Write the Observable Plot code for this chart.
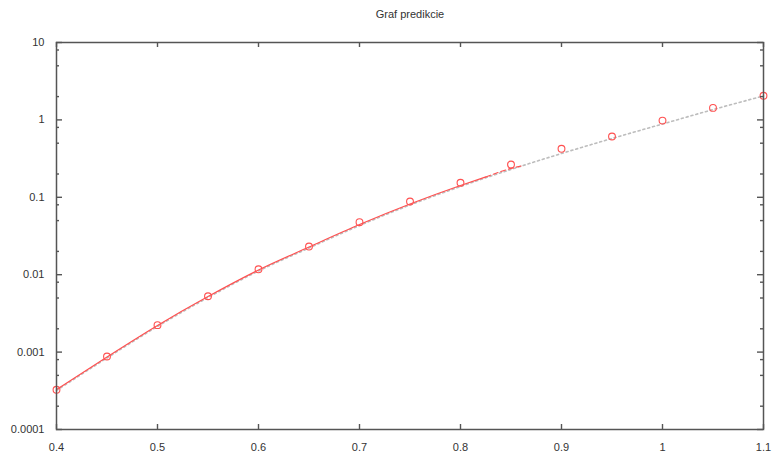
<!DOCTYPE html>
<html>
<head>
<meta charset="utf-8">
<script src="https://cdn.jsdelivr.net/npm/d3@7"></script>
<script src="https://cdn.jsdelivr.net/npm/@observablehq/plot@0.6"></script>
<style>
  html, body { margin: 0; padding: 0; background: #fff; }
</style>
</head>
<body>
<div id="chart"></div>
<script>
// Title
const title = "Graf predikcie";

// Measured points (red markers)
const pointX = [0.4, 0.45, 0.5, 0.55, 0.6, 0.65, 0.7, 0.75, 0.8, 0.85, 0.9, 0.95, 1.0, 1.05, 1.1];
const pointY = [0.000326, 0.000877, 0.00223, 0.00527, 0.01175, 0.0231, 0.0477, 0.0883, 0.154, 0.265, 0.423, 0.61, 0.98, 1.43, 2.05];

// Fitted curve (red solid part)
const fitX = [0.4, 0.45, 0.5, 0.55, 0.6, 0.65, 0.7, 0.75, 0.8, 0.825];
const fitY = [0.000329, 0.000865, 0.00221, 0.00522, 0.0115, 0.0228, 0.0445, 0.0819, 0.142, 0.183];

// Fitted curve (red dashed tail)
const tailX = [0.825, 0.85, 0.862];
const tailY = [0.183, 0.236, 0.257];

// Prediction curve (grey dotted)
const predX = [0.4, 0.45, 0.5, 0.55, 0.6, 0.65, 0.7, 0.75, 0.8, 0.85, 0.9, 0.95, 1.0, 1.05, 1.1];
const predY = [0.000329, 0.000865, 0.00221, 0.00522, 0.0115, 0.0228, 0.0445, 0.0819, 0.142, 0.236, 0.379, 0.593, 0.912, 1.40, 2.10];

// Axis ticks
const xTicks = [0.4, 0.5, 0.6, 0.7, 0.8, 0.9, 1.0, 1.1];
const yTicks = [0.0001, 0.001, 0.01, 0.1, 1, 10];
const yMinor = [0.0002, 0.0005, 0.0008, 0.002, 0.005, 0.008, 0.02, 0.05, 0.08, 0.2, 0.5, 0.8, 2, 5, 8];

const points = pointX.map((x, i) => ({x, y: pointY[i]}));
const fit = fitX.map((x, i) => ({x, y: fitY[i]}));
const tail = tailX.map((x, i) => ({x, y: tailY[i]}));
const pred = predX.map((x, i) => ({x, y: predY[i]}));

const W = 773, H = 456, ML = 56, MR = 10, MT = 42, MB = 27;
const innerW = W - ML - MR, innerH = H - MT - MB;

const red = "#ff5050";
const axisColor = "#555";
const fmtX = d => String(+d.toFixed(2));
const fmtY = d => d >= 1 ? String(d) : d.toFixed(Math.round(-Math.log10(d)));

const chart = Plot.plot({
  width: W,
  height: H,
  marginLeft: ML,
  marginRight: MR,
  marginTop: MT,
  marginBottom: MB,
  style: {fontFamily: "'Liberation Sans', Arial, sans-serif", fontSize: "11px", color: "#333", background: "#fff"},
  x: {domain: [0.4, 1.1]},
  y: {type: "log", domain: [0.0001, 10]},
  marks: [
    Plot.text([title], {frameAnchor: "top", dy: -28, lineAnchor: "middle", fontSize: 11, fill: "#333"}),
    // grey dotted prediction
    Plot.line(pred, {x: "x", y: "y", stroke: "#bdbdbd", strokeWidth: 1.6, strokeDasharray: "2,3", curve: "monotone-x", dy: 1}),
    // red fit
    Plot.line(fit, {x: "x", y: "y", stroke: red, strokeWidth: 1.2, curve: "monotone-x"}),
    Plot.line(tail, {x: "x", y: "y", stroke: red, strokeWidth: 1.2, strokeDasharray: "5,3", curve: "monotone-x"}),
    // markers
    Plot.dot(points, {x: "x", y: "y", r: 3.4, stroke: red, strokeWidth: 1.1, fill: "none"}),
    // labels
    Plot.axisX({ticks: xTicks, tickSize: 0, tickPadding: 14, tickFormat: fmtX, label: null, fill: "#333"}),
    Plot.axisY({ticks: yTicks, tickSize: 0, tickPadding: 12, tickFormat: fmtY, label: null, fill: "#333"}),
    // inward ticks
    Plot.tickX(xTicks, {x: d => d, insetTop: innerH - 5, stroke: axisColor, strokeWidth: 1.4}),
    Plot.tickX(xTicks, {x: d => d, insetBottom: innerH - 5, stroke: axisColor, strokeWidth: 1.4}),
    Plot.tickY(yTicks, {y: d => d, insetRight: innerW - 6, stroke: axisColor, strokeWidth: 1.4}),
    Plot.tickY(yTicks, {y: d => d, insetLeft: innerW - 6, stroke: axisColor, strokeWidth: 1.4}),
    Plot.tickY(yMinor, {y: d => d, insetRight: innerW - 3, stroke: axisColor, strokeWidth: 1.4}),
    Plot.tickY(yMinor, {y: d => d, insetLeft: innerW - 3, stroke: axisColor, strokeWidth: 1.4}),
    Plot.frame({stroke: axisColor, strokeWidth: 1.5})
  ]
});

document.getElementById("chart").appendChild(chart);
</script>
</body>
</html>
